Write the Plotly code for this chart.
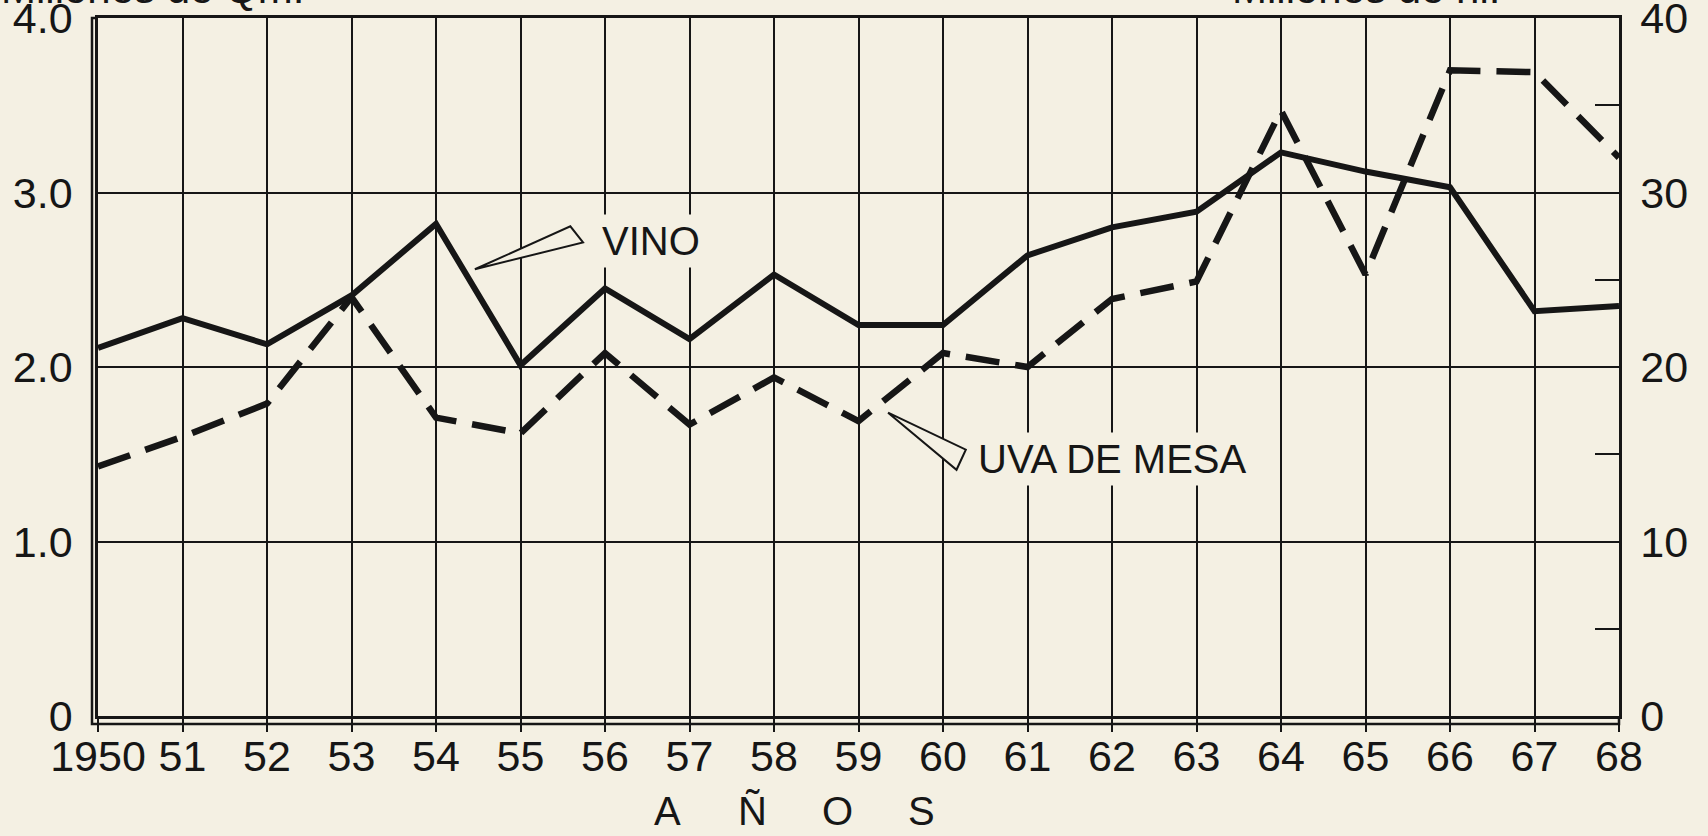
import plotly.graph_objects as go

# ---------------- data ----------------
years = list(range(1950, 1969))
year_labels = ["1950", "51", "52", "53", "54", "55", "56", "57", "58", "59",
               "60", "61", "62", "63", "64", "65", "66", "67", "68"]
# VINO, millones de hl (right axis)
vino = [21.1, 22.8, 21.3, 24.1, 28.2, 20.1, 24.5, 21.6, 25.3, 22.4,
        22.4, 26.4, 28.0, 28.9, 32.3, 31.2, 30.3, 23.2, 23.5]
# UVA DE MESA, millones de Qm (left axis)
uva = [1.43, 1.60, 1.79, 2.40, 1.71, 1.62, 2.08, 1.67, 1.94, 1.69,
       2.08, 2.00, 2.39, 2.49, 3.47, 2.53, 3.70, 3.69, 3.20]

left_ticks = [0, 1, 2, 3, 4]
left_labels = ["0", "1.0", "2.0", "3.0", "4.0"]
left_half = [0.5, 1.5, 2.5, 3.5]
right_ticks = [0, 5, 10, 15, 20, 25, 30, 35, 40]
right_labels = ["0", "", "10", "", "20", "", "30", "", "40"]

title_left = "Millones de Qm."
title_right = "Millones de hl."
axis_letters = ["A", "Ñ", "O", "S"]

INK = "#161616"
BG = "#f4f0e3"
FONT = "Liberation Sans, Arial, sans-serif"

W, H = 1708, 836
ML, MR, MT, MB = 98, 89, 18, 120
PW, PH = W - ML - MR, H - MT - MB

fig = go.Figure()
fig.add_trace(go.Scatter(x=years, y=uva, mode="lines", name="UVA DE MESA",
                         line=dict(color=INK, width=6.5, dash="34px,16px"),
                         yaxis="y"))
fig.add_trace(go.Scatter(x=years, y=vino, mode="lines", name="VINO",
                         line=dict(color=INK, width=6), yaxis="y2"))

tickfont = dict(size=43, family=FONT, color=INK)

fig.update_layout(
    width=W, height=H,
    margin=dict(l=ML, r=MR, t=MT, b=MB, pad=0, autoexpand=False),
    paper_bgcolor=BG, plot_bgcolor=BG,
    showlegend=False,
    xaxis=dict(range=[1950, 1968], tickmode="array", tickvals=years, ticktext=year_labels,
               showgrid=True, gridcolor=INK, gridwidth=2,
               showline=True, linecolor=INK, linewidth=2.5, mirror=True,
               ticks="outside", ticklen=13, tickwidth=2, tickcolor=INK,
               tickfont=tickfont, zeroline=False, ticklabelstandoff=-12,
               ticklabeloverflow="allow", automargin=False),
    yaxis=dict(range=[0, 4], tickmode="array", tickvals=left_ticks, ticktext=left_labels,
               showgrid=True, gridcolor=INK, gridwidth=2,
               showline=True, linecolor=INK, linewidth=2.5, mirror=True,
               ticks="", tickfont=tickfont, zeroline=False, ticklabelstandoff=14,
               ticklabeloverflow="allow", automargin=False),
    yaxis2=dict(range=[0, 40], overlaying="y", side="right", anchor="x",
                tickmode="array", tickvals=right_ticks, ticktext=right_labels,
                showgrid=False, zeroline=False, showline=True, linecolor=INK, linewidth=2.5,
                ticks="inside", ticklen=24, tickwidth=2, tickcolor=INK,
                tickfont=tickfont, ticklabelstandoff=10, ticklabeloverflow="allow",
                automargin=False),
    yaxis3=dict(range=[0, 4], overlaying="y", side="left", anchor="x",
                tickmode="array", tickvals=left_half, showticklabels=False,
                showgrid=False, zeroline=False, showline=False, automargin=False,
                ticks="outside", ticklen=12, tickwidth=2, tickcolor=INK),
    yaxis4=dict(range=[0, 4], overlaying="y", side="left", anchor="x",
                tickmode="array", tickvals=left_half, showticklabels=False,
                showgrid=False, zeroline=False, showline=False, automargin=False,
                ticks="inside", ticklen=17, tickwidth=2, tickcolor=INK),
)

# double frame line (left and bottom)
dx = 6 / PW
dy = 8 / PH
fig.add_shape(type="path", xref="paper", yref="paper",
              path=f"M 0,1 L {-dx},1 L {-dx},{-dy} L 1,{-dy} L 1,0",
              line=dict(color=INK, width=2.5), layer="above")

# callout wedges
fig.add_shape(type="path", xref="x", yref="y",
              path="M 1954.46,2.56 L 1955.59,2.806 L 1955.74,2.714 Z",
              line=dict(color=INK, width=2), fillcolor=BG, layer="above")
fig.add_shape(type="path", xref="x", yref="y",
              path="M 1959.35,1.738 L 1960.27,1.526 L 1960.16,1.411 Z",
              line=dict(color=INK, width=2), fillcolor=BG, layer="above")

labfont = dict(size=40, family=FONT, color=INK)
fig.add_annotation(x=1956.55, y=2.72, xref="x", yref="y", text="VINO", showarrow=False,
                   font=labfont, bgcolor=BG, borderpad=4)
fig.add_annotation(x=1962.0, y=1.47, xref="x", yref="y", text="UVA DE MESA", showarrow=False,
                   font=labfont, bgcolor=BG, borderpad=4)

# axis title letters
for letter, px in zip(axis_letters, [667, 752, 837, 921]):
    fig.add_annotation(x=(px - ML) / PW, y=-(811 - MT - PH) / PH, xref="paper", yref="paper",
                       text=letter, showarrow=False, font=labfont,
                       xanchor="center", yanchor="middle")

# unit titles (cut at the top edge)
fig.add_annotation(x=-ML / PW, y=1, xref="paper", yref="paper", text=title_left,
                   showarrow=False, font=dict(size=42, family=FONT, color=INK),
                   xanchor="left", yanchor="bottom", borderpad=0, yshift=5)
fig.add_annotation(x=(1231 - ML) / PW, y=1, xref="paper", yref="paper", text=title_right,
                   showarrow=False, font=dict(size=42, family=FONT, color=INK),
                   xanchor="left", yanchor="bottom", borderpad=0, yshift=5)

fig.write_html("out.html", config={"displayModeBar": False},
               post_script="document.body.style.margin='0';document.body.style.overflow='hidden';")
